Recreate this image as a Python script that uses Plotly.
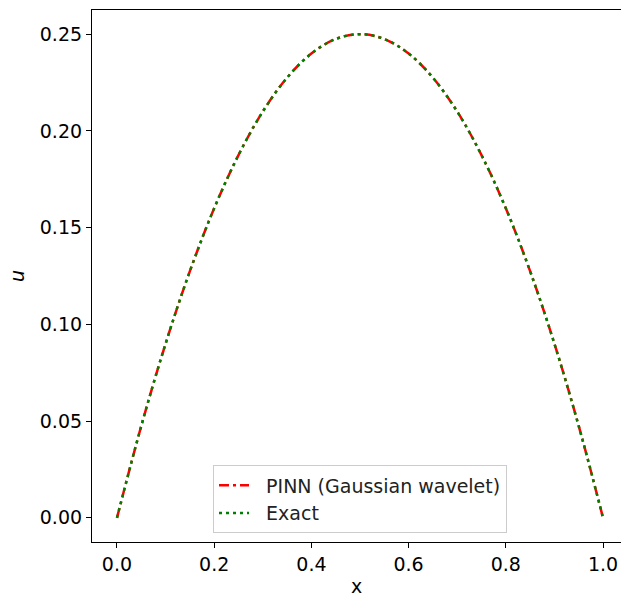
import plotly.graph_objects as go

x_vals = [0.00, 0.05, 0.10, 0.15, 0.20, 0.25, 0.30, 0.35, 0.40, 0.45, 0.50,
          0.55, 0.60, 0.65, 0.70, 0.75, 0.80, 0.85, 0.90, 0.95, 1.00]
u_pinn = [0.0, 0.0475, 0.090, 0.1275, 0.160, 0.1875, 0.210, 0.2275, 0.240, 0.2475, 0.250,
          0.2475, 0.240, 0.2275, 0.210, 0.1875, 0.160, 0.1275, 0.090, 0.0475, 0.0]
u_exact = [0.0, 0.0475, 0.090, 0.1275, 0.160, 0.1875, 0.210, 0.2275, 0.240, 0.2475, 0.250,
           0.2475, 0.240, 0.2275, 0.210, 0.1875, 0.160, 0.1275, 0.090, 0.0475, 0.0]
x_ticks = [0.0, 0.2, 0.4, 0.6, 0.8, 1.0]
x_tick_labels = ["0.0", "0.2", "0.4", "0.6", "0.8", "1.0"]
y_ticks = [0.00, 0.05, 0.10, 0.15, 0.20, 0.25]
y_tick_labels = ["0.00", "0.05", "0.10", "0.15", "0.20", "0.25"]

FONT = "DejaVu Sans"
FS = 19
PAD = "\u00a0\u00a0"

fig = go.Figure()
fig.add_trace(go.Scatter(
    x=x_vals, y=u_pinn, mode="lines", name=PAD + "PINN (Gaussian wavelet)",
    line=dict(color="red", width=2.5, dash="10px,4px,3px,4px", shape="spline"),
))
fig.add_trace(go.Scatter(
    x=x_vals, y=u_exact, mode="lines", name=PAD + "Exact",
    line=dict(color="green", width=2.5, dash="3px,4px", shape="spline"),
))

fig.update_layout(
    width=621, height=597,
    margin=dict(l=92, r=0, t=10, b=55),
    plot_bgcolor="white", paper_bgcolor="white",
    font=dict(family=FONT, size=FS, color="black"),
    showlegend=True,
    legend=dict(
        x=0.5066, y=0.016, xanchor="center", yanchor="bottom",
        bgcolor="rgba(255,255,255,0.8)", bordercolor="#cccccc", borderwidth=1,
        font=dict(family=FONT, size=FS, color="#222222"),
        tracegroupgap=0,
    ),
)
fig.update_xaxes(
    range=[-0.0514, 1.037],
    tickvals=x_ticks, ticktext=x_tick_labels,
    showgrid=False, zeroline=False,
    showline=True, linecolor="black", linewidth=1.2, mirror=True,
    ticks="outside", ticklen=5, tickcolor="black", tickwidth=1.2,
    title=dict(text="x", standoff=8, font=dict(family=FONT, size=FS)),
)
fig.update_yaxes(
    range=[-0.0125, 0.2625],
    tickvals=y_ticks, ticktext=y_tick_labels,
    showgrid=False, zeroline=False,
    showline=True, linecolor="black", linewidth=1.2, mirror=False,
    ticks="outside", ticklen=5, tickcolor="black", tickwidth=1.2,
    title=dict(text="<i>u</i>", standoff=10, font=dict(family=FONT, size=FS)),
)

fig.write_html("out.html")
